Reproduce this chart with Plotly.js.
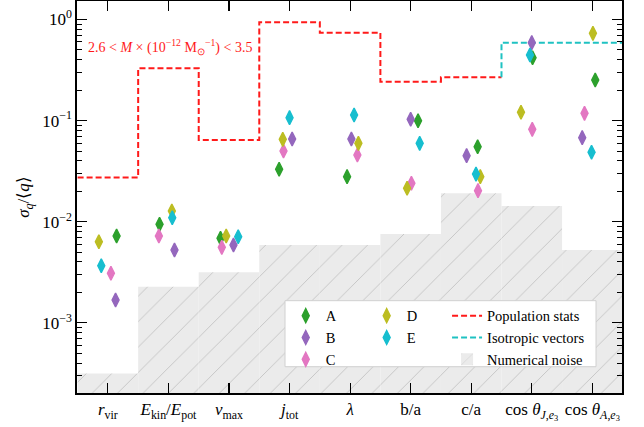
<!DOCTYPE html>
<html>
<head>
<meta charset="utf-8">
<script src="https://cdn.plot.ly/plotly-3.0.1.min.js"></script>
<style>html,body{margin:0;padding:0;background:#fff;}#chart{width:644px;height:427px;}</style>
</head>
<body>
<div id="chart"></div>
<script>
// ---- data ----
const categories = ["rvir","Ekin/Epot","vmax","jtot","lambda","b/a","c/a","cosJ","cosA"];
const tickLabels = [
  "<i>r</i><sub>vir</sub>",
  "<i>E</i><sub>kin</sub>/<i>E</i><sub>pot</sub>",
  "<i>v</i><sub>max</sub>",
  "<i>j</i><sub>tot</sub>",
  "<i>λ</i>",
  "b/a",
  "c/a",
  "cos <i>θ</i><sub><i>J</i>,<i>e</i><sub>3</sub></sub>",
  "cos <i>θ</i><sub><i>A</i>,<i>e</i><sub>3</sub></sub>"
];
const seriesNames = ["A","B","C","D","E"];
const valsA = [0.00722,0.00942,0.00685,0.0330,0.0279,0.0998,0.0552,0.419,0.252];
const valsB = [0.00168,0.00525,0.00589,0.0658,0.0658,0.103,0.0450,0.590,0.0678];
const valsC = [0.00309,0.00722,0.00558,0.0500,0.0457,0.0240,0.0203,0.0820,0.118];
const valsD = [0.00634,0.01276,0.00722,0.0653,0.0596,0.0214,0.0279,0.1208,0.730];
const valsE = [0.00367,0.01096,0.00711,0.1069,0.1136,0.0596,0.0296,0.4455,0.0486];
// horizontal jitter of each point (category units)
const jitterA = [0.144,-0.147,-0.14,-0.172,-0.05,0.122,0.106,0.013,0.048];
const jitterB = [0.127,0.10,0.074,0.043,0.021,0.0,-0.076,0.0,-0.167];
const jitterC = [0.05,-0.158,-0.119,-0.10,0.12,0.012,0.112,0.008,-0.129];
const jitterD = [-0.149,0.056,-0.046,-0.112,0.137,-0.059,0.15,-0.178,0.01];
const jitterE = [-0.109,0.063,0.152,0.0,0.066,0.149,0.079,-0.03,-0.013];
// population stats (first 7 categories), isotropic vectors (last 2)
const popStats = [0.0274,0.329,0.0643,0.938,0.740,0.2425,0.268];
const isoVectors = [0.590,0.590];
// numerical noise floor per category
const noiseFloor = [0.000315,0.00228,0.00316,0.00588,0.00588,0.00756,0.0191,0.01429,0.00525];

// ---- styles ----
const colors = {A:"#2ca02c",B:"#9467bd",C:"#e377c2",D:"#bcbd22",E:"#17becf"};
const FONT = "Liberation Serif, Times New Roman, serif";
const idx = categories.map((c,i)=>i);

const traces = [];
// noise bars
traces.push({
  type:"bar", x: idx, y: noiseFloor, width: 1, name:"Numerical noise",
  marker:{color:"#ebebeb", line:{width:0},
    pattern:{shape:"/", bgcolor:"#ebebeb", fgcolor:"#b0b0b0", size:18, solidity:0.035, fillmode:"replace"}},
  legend:"legend3", legendrank:3, hoverinfo:"skip"
});
// population stats step
const popX = popStats.map((v,i)=>i-0.5).concat([popStats.length-0.5]);
const popY = popStats.concat([popStats[popStats.length-1]]);
traces.push({
  type:"scatter", mode:"lines", x: popX, y: popY, name:"Population stats",
  line:{color:"#ff1a1a", width:2, dash:"6px,3px", shape:"hv"},
  legend:"legend3", legendrank:1
});
// isotropic vectors step
const isoX = [popStats.length-0.5].concat(isoVectors.map((v,i)=>popStats.length+i+0.5));
const isoY = [popStats[popStats.length-1]].concat(isoVectors);
traces.push({
  type:"scatter", mode:"lines", x: isoX, y: isoY, name:"Isotropic vectors",
  line:{color:"#1fc2c2", width:2, dash:"6px,3px", shape:"vh"},
  legend:"legend3", legendrank:2
});
const allVals = {A:valsA,B:valsB,C:valsC,D:valsD,E:valsE};
const allJit = {A:jitterA,B:jitterB,C:jitterC,D:jitterD,E:jitterE};
seriesNames.forEach((s,k)=>{
  traces.push({
    type:"scatter", mode:"markers", name:s,
    x: idx.map(i=>i+allJit[s][i]), y: allVals[s],
    marker:{symbol:"diamond-tall", size:10, color:colors[s], line:{width:1.4,color:colors[s]}},
    legend: (k<3) ? "legend" : "legend2", legendrank: k
  });
});

// minor tick values for log axis
const minorVals = [];
for (let e=-4;e<=0;e++){ for (let m=2;m<=9;m++){ minorVals.push(m*Math.pow(10,e)); } }

const legendBase = {bgcolor:"rgba(0,0,0,0)", borderwidth:0, font:{family:FONT,size:14.5,color:"#000"},
  yanchor:"top", xanchor:"left", traceorder:"normal", tracegroupgap:0};

const layout = {
  width:644, height:427,
  margin:{l:77, r:22, t:1, b:34},
  paper_bgcolor:"#fff", plot_bgcolor:"#fff",
  font:{family:FONT, size:17, color:"#000"},
  showlegend:true,
  xaxis:{range:[-0.51,8.49], tickmode:"array", tickvals: idx, ticktext: tickLabels,
    ticks:"inside", ticklen:10, tickwidth:1.2, tickcolor:"#000",
    showline:true, linecolor:"#000", linewidth:1.6, mirror:"ticks",
    showgrid:false, zeroline:false, tickfont:{family:FONT,size:17}},
  yaxis:{type:"log", range:[-3.694,0.183], tickmode:"array",
    tickvals:[0.001,0.01,0.1,1], ticktext:["10<sup>−3</sup>","10<sup>−2</sup>","10<sup>−1</sup>","10<sup>0</sup>"],
    ticks:"inside", ticklen:10, tickwidth:1.2, tickcolor:"#000",
    minor:{tickmode:"array", tickvals:minorVals, ticks:"inside", ticklen:5, tickwidth:1, tickcolor:"#000", showgrid:false},
    showline:true, linecolor:"#000", linewidth:1.6, mirror:"ticks",
    showgrid:false, zeroline:false, tickfont:{family:FONT,size:17},
    title:{text:"<i>σ</i><sub><i>q</i></sub>/⟨<i>q</i>⟩", font:{family:FONT,size:17}, standoff:8}},
  legend: Object.assign({}, legendBase, {x:0.383, y:0.238}),
  legend2: Object.assign({}, legendBase, {x:0.5315, y:0.238}),
  legend3: Object.assign({}, legendBase, {x:0.679, y:0.238}),
  shapes:[{type:"rect", xref:"paper", yref:"paper", x0:0.3817, x1:0.9523, y0:0.0671, y1:0.2355,
    fillcolor:"#ffffff", line:{color:"#d0d0d0", width:1}, layer:"above"}],
  annotations:[{xref:"x", yref:"y", x:-0.36, y:-0.272, xanchor:"left", yanchor:"middle", showarrow:false,
    text:"2.6 &lt; <i>M</i> × (10<sup>−12</sup> M<sub>⊙</sub><sup>−1</sup>) &lt; 3.5",
    font:{family:FONT, size:14, color:"#ff1a1a"}}]
};

Plotly.newPlot("chart", traces, layout, {staticPlot:true, displayModeBar:false});
</script>
</body>
</html>
